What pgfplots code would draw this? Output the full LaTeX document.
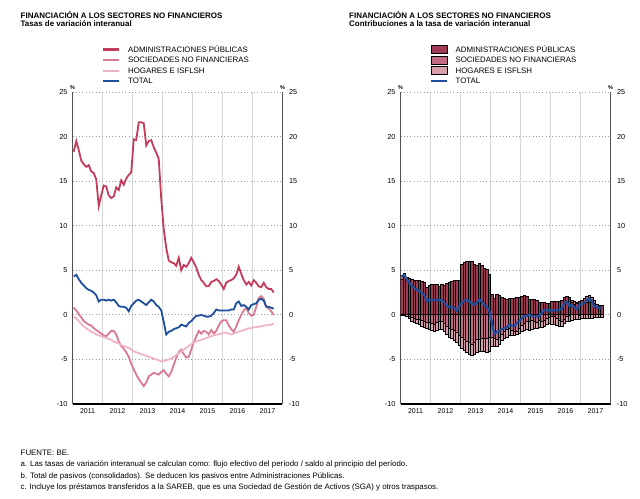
\documentclass[border=0pt]{standalone}
\usepackage{fontspec}
\setmainfont{Liberation Sans}
\usepackage{pgfplots}
\usepackage{pgfplotstable}
\pgfplotsset{compat=1.18}

\definecolor{lA}{HTML}{C43C5C}
\definecolor{lS}{HTML}{D97A92}
\definecolor{lH}{HTML}{EDB5C3}
\definecolor{lT}{HTML}{1F4F9C}
\definecolor{bA}{HTML}{A03A56}
\definecolor{bS}{HTML}{C26A83}
\definecolor{bH}{HTML}{D89EAC}
\definecolor{vgrid}{HTML}{D6D6D6}
\definecolor{hgrid}{HTML}{9C9C9C}
\definecolor{axgray}{HTML}{505050}

\pgfplotstableread{
m A S H T
0 18.3 0.8 -0.2 4.3
1 19.5 0.5 -0.4 4.5
2 18.5 0.1 -0.7 4.0
3 17.3 -0.3 -1.0 3.6
4 16.9 -0.7 -1.3 3.3
5 16.6 -0.9 -1.5 3.0
6 16.8 -1.1 -1.7 2.8
7 16.1 -1.2 -1.9 2.7
8 15.9 -1.5 -2.0 2.5
9 15.2 -1.7 -2.2 2.2
10 12.2 -1.9 -2.3 1.5
11 13.4 -2.1 -2.4 1.7
12 14.5 -2.3 -2.5 1.7
13 14.4 -2.4 -2.6 1.6
14 13.4 -2.1 -2.7 1.7
15 13.1 -1.8 -2.8 1.6
16 13.3 -1.8 -3.0 1.7
17 14.3 -2.2 -3.1 1.4
18 14.0 -3.0 -3.2 1.0
19 15.1 -3.5 -3.4 0.9
20 14.6 -3.8 -3.5 0.9
21 15.3 -4.2 -3.6 0.8
22 15.7 -4.7 -3.7 0.4
23 16.0 -5.5 -3.9 1.0
24 19.7 -6.1 -4.1 1.3
25 19.6 -6.7 -4.2 1.6
26 21.6 -7.2 -4.3 1.7
27 21.6 -7.6 -4.4 1.5
28 21.5 -8.0 -4.5 1.3
29 19.0 -7.6 -4.6 1.1
30 19.5 -6.9 -4.7 1.4
31 19.6 -6.7 -4.8 1.7
32 18.8 -6.5 -4.9 1.5
33 18.2 -6.6 -5.0 1.1
34 17.5 -6.7 -5.1 0.9
35 13.0 -6.4 -5.2 0.5
36 9.6 -6.2 -5.2 -0.8
37 7.5 -6.6 -5.1 -2.2
38 6.1 -6.9 -5.0 -1.9
39 5.9 -6.4 -4.9 -1.8
40 5.8 -5.6 -4.7 -1.6
41 5.5 -4.8 -4.5 -1.5
42 6.4 -4.2 -4.3 -1.4
43 5.0 -3.9 -4.1 -1.1
44 5.6 -4.4 -3.9 -1.2
45 5.4 -4.8 -3.7 -1.3
46 5.8 -4.7 -3.5 -0.9
47 6.4 -3.9 -3.3 -0.7
48 5.9 -3.1 -3.1 -0.4
49 5.3 -2.4 -3.0 -0.1
50 4.5 -1.8 -2.9 -0.1
51 3.9 -2.1 -2.8 0.0
52 3.6 -1.8 -2.7 -0.1
53 3.2 -1.9 -2.6 -0.2
54 3.2 -2.2 -2.5 -0.2
55 3.7 -1.7 -2.4 -0.1
56 3.8 -2.1 -2.3 0.2
57 4.0 -1.8 -2.2 0.6
58 3.8 -1.2 -2.2 0.5
59 3.4 -0.75 -2.1 0.5
60 2.9 -0.6 -2.0 0.5
61 3.6 -0.6 -2.0 0.5
62 3.8 -1.2 -2.1 0.5
63 3.9 -1.6 -2.2 0.6
64 4.1 -1.9 -2.1 0.6
65 4.5 -1.3 -2.0 1.3
66 5.4 -0.6 -1.9 1.5
67 4.6 0.0 -1.8 1.0
68 3.9 0.5 -1.7 1.1
69 3.4 0.75 -1.6 0.9
70 3.7 0.2 -1.5 0.6
71 3.3 -0.1 -1.5 1.1
72 3.9 0.0 -1.4 1.2
73 3.6 0.9 -1.4 1.3
74 3.2 1.9 -1.3 1.7
75 3.1 2.1 -1.3 1.8
76 3.6 1.8 -1.2 1.6
77 3.1 0.9 -1.2 0.9
78 2.9 0.7 -1.1 0.9
79 2.9 0.4 -1.1 0.8
80 2.5 0.0 -1.0 0.7
}\rates

\pgfplotstableread{
m top cA bot sneg
0 4.36 4.00 -0.06 0
1 4.62 4.40 -0.12 0
2 4.22 4.18 -0.22 0
3 4.04 4.04 -0.44 -0.13
4 4.01 4.01 -0.71 -0.31
5 3.86 3.86 -0.86 -0.40
6 3.81 3.81 -1.01 -0.49
7 3.81 3.81 -1.11 -0.53
8 3.77 3.77 -1.27 -0.66
9 3.61 3.61 -1.41 -0.74
10 3.03 3.03 -1.53 -0.83
11 3.34 3.34 -1.64 -0.91
12 3.46 3.46 -1.76 -1.00
13 3.43 3.43 -1.83 -1.04
14 3.42 3.42 -1.72 -0.91
15 3.21 3.21 -1.61 -0.77
16 3.37 3.37 -1.67 -0.77
17 3.27 3.27 -1.87 -0.94
18 3.50 3.50 -2.24 -1.28
19 3.60 3.60 -2.49 -1.48
20 3.70 3.70 -2.65 -1.61
21 3.80 3.80 -2.84 -1.77
22 3.80 3.80 -3.07 -1.97
23 3.90 3.90 -3.45 -2.30
24 5.60 5.60 -3.75 -2.54
25 5.90 5.90 -4.02 -2.79
26 6.00 6.00 -4.24 -2.98
27 6.00 6.00 -4.43 -3.14
28 5.95 5.95 -4.61 -3.29
29 5.70 5.70 -4.46 -3.12
30 5.59 5.59 -4.19 -2.82
31 5.75 5.75 -4.13 -2.73
32 5.56 5.56 -4.06 -2.64
33 5.22 5.22 -4.12 -2.67
34 5.07 5.07 -4.17 -2.70
35 4.57 4.57 -4.07 -2.57
36 2.30 2.30 -3.60 -2.49
37 1.89 1.89 -3.60 -2.63
38 2.28 2.28 -3.55 -2.75
39 2.13 2.13 -3.30 -2.53
40 1.95 1.95 -2.90 -2.21
41 1.80 1.80 -2.70 -1.89
42 1.75 1.75 -2.50 -1.65
43 1.80 1.80 -2.30 -1.52
44 1.85 1.85 -2.30 -1.72
45 1.85 1.85 -2.30 -1.86
46 1.90 1.90 -2.25 -1.82
47 1.95 1.95 -2.05 -1.50
48 2.10 2.10 -1.85 -1.19
49 2.20 2.20 -1.76 -0.92
50 2.10 2.10 -1.60 -0.69
51 1.75 1.75 -1.70 -0.80
52 1.70 1.70 -1.60 -0.68
53 1.70 1.70 -1.55 -0.72
54 1.65 1.65 -1.55 -0.83
55 1.35 1.35 -1.45 -0.64
56 1.35 1.35 -1.45 -0.78
57 1.40 1.40 -1.30 -0.67
58 1.30 1.30 -1.10 -0.44
59 1.30 1.30 -1.00 -0.28
60 1.45 1.45 -1.05 -0.22
61 1.45 1.45 -1.05 -0.22
62 1.50 1.50 -1.20 -0.44
63 1.55 1.55 -1.30 -0.58
64 1.60 1.60 -1.30 -0.69
65 2.00 2.00 -1.01 -0.47
66 2.10 2.10 -0.73 -0.22
67 1.90 1.90 -0.70 -0.10
68 1.56 1.38 -0.60 0
69 1.45 1.18 -0.55 0
70 1.40 1.33 -0.50 0
71 1.54 1.54 -0.50 -0.04
72 1.60 1.60 -0.45 0
73 1.80 1.48 -0.45 0
74 2.04 1.38 -0.40 0
75 2.14 1.41 -0.40 0
76 2.00 1.38 -0.38 0
77 1.60 1.29 -0.35 0
78 1.20 0.96 -0.32 0
79 1.10 0.96 -0.30 0
80 1.00 1.00 -0.28 0
}\contrib

\newcommand{\tickfont}{\fontsize{7.3}{8}\selectfont}

\pgfplotsset{
  frame/.style={
    scale only axis, width=210bp, height=312bp,
    xmin=-0.5, xmax=83.5, ymin=-10, ymax=25,
  },
  base/.style={
    frame,
    axis x line*=bottom, axis y line*=left,
    axis line style={-},
    x axis line style={black, line width=1.3bp},
    y axis line style={axgray, line width=1.7bp},
    xtick={11.5,23.5,35.5,47.5,59.5,71.5},
    xticklabels={},
    xmajorgrids,
    major x grid style={vgrid, line width=1.4bp},
    extra x ticks={5.5,17.5,29.5,41.5,53.5,65.5,77.5},
    extra x tick labels={2011,2012,2013,2014,2015,2016,2017},
    extra x tick style={grid=none},
    ytick={-10,-5,0,5,10,15,20,25},
    yticklabels={-10,-5,0,5,10,15,20,25},
    ymajorgrids,
    major y grid style={hgrid, line width=0.8bp, dash pattern=on 0.9bp off 2.4bp},
    major tick length=0pt,
    tick style={draw=none},
    xticklabel style={font=\fontsize{7}{8}\selectfont, yshift=-1.5bp},
    yticklabel style={font=\tickfont, xshift=-1.5bp},
    legend cell align=left,
    legend style={at={(axis description cs:0.139,1.154)}, anchor=north west,
      draw=none, fill=none, inner sep=0pt, font=\fontsize{7.9}{8}\selectfont,
      nodes={text height=5.3bp, text depth=0bp, inner ysep=2.65bp, inner xsep=0bp},
      /tikz/every odd column/.style={column sep=7.5bp}},
  },
  rightlab/.style={
    frame,
    hide x axis,
    axis y line*=right,
    axis line style={-, axgray, line width=1.7bp},
    ytick={-10,-5,0,5,10,15,20,25},
    yticklabels={-10,-5,0,5,10,15,20,25},
    major tick length=0pt,
    tick style={draw=none},
    yticklabel style={font=\tickfont, xshift=3bp},
  },
  overlay/.style={frame, hide axis},
  zeroline/.style={
    extra y ticks={0}, extra y tick labels={},
    extra y tick style={grid=major, major grid style={black, solid, line width=1bp}},
  },
  bars/.style={ybar, bar width=1, bar shift=0pt, draw=black, line width=1bp, forget plot},
}

\begin{document}
\begin{tikzpicture}
\path[use as bounding box] (0,0) rectangle (640bp,-499bp);

% titles
\node[anchor=north west, inner sep=0pt, align=left, font=\bfseries\fontsize{8}{7.9}\selectfont] at (20.5bp,-11.2bp)
  {FINANCIACIÓN A LOS SECTORES NO FINANCIEROS\\Tasas de variación interanual};
\node[anchor=north west, inner sep=0pt, align=left, font=\bfseries\fontsize{8}{7.9}\selectfont] at (349bp,-11.2bp)
  {FINANCIACIÓN A LOS SECTORES NO FINANCIEROS\\Contribuciones a la tasa de variación interanual};

% ---------------- left panel ----------------
\begin{axis}[base, zeroline, name=L, at={(72.5bp,-92bp)}, anchor=north west,
  legend image code/.code={\draw[#1, line width=2.2bp] (0bp,0bp) -- (16.5bp,0bp);}]
  \addplot[lA, line width=1.8bp] table[x=m, y=A] {\rates};
  \addlegendentry{ADMINISTRACIONES PÚBLICAS}
  \addplot[lS, line width=1.8bp] table[x=m, y=S] {\rates};
  \addlegendentry{SOCIEDADES NO FINANCIERAS}
  \addplot[lH, line width=1.8bp] table[x=m, y=H] {\rates};
  \addlegendentry{HOGARES E ISFLSH}
  \addplot[lT, line width=1.8bp] table[x=m, y=T] {\rates};
  \addlegendentry{TOTAL}
\end{axis}
\begin{axis}[rightlab, at={(72.5bp,-92bp)}, anchor=north west]
\end{axis}
\node[anchor=south, inner sep=0pt, font=\bfseries\fontsize{5.5}{5.5}\selectfont] at ([yshift=2.5bp]L.north west) {\%};
\node[anchor=south, inner sep=0pt, font=\bfseries\fontsize{5.5}{5.5}\selectfont] at ([yshift=2.5bp]L.north east) {\%};

% ---------------- right panel ----------------
\begin{axis}[base, zeroline, name=R, at={(400.5bp,-92bp)}, anchor=north west]
  \addplot[bars, fill=bS] table[x=m, y=top] {\contrib};
  \addplot[bars, fill=bA] table[x=m, y=cA] {\contrib};
  \addplot[bars, fill=bH] table[x=m, y=bot] {\contrib};
  \addplot[bars, fill=bS] table[x=m, y=sneg] {\contrib};
  \addlegendimage{legend image code/.code={\draw[fill=bA, draw=black, line width=0.8bp] (0bp,-4bp) rectangle (16bp,4bp);}}
  \addlegendentry{ADMINISTRACIONES PÚBLICAS}
  \addlegendimage{legend image code/.code={\draw[fill=bS, draw=black, line width=0.8bp] (0bp,-4bp) rectangle (16bp,4bp);}}
  \addlegendentry{SOCIEDADES NO FINANCIERAS}
  \addlegendimage{legend image code/.code={\draw[fill=bH, draw=black, line width=0.8bp] (0bp,-4bp) rectangle (16bp,4bp);}}
  \addlegendentry{HOGARES E ISFLSH}
  \addlegendimage{legend image code/.code={\draw[lT, line width=2.2bp] (0bp,0bp) -- (16bp,0bp);}}
  \addlegendentry{TOTAL}
\end{axis}
\begin{axis}[overlay, at={(400.5bp,-92bp)}, anchor=north west]
  \addplot[lT, line width=2.2bp, line join=round] table[x=m, y=T] {\rates};
\end{axis}
\begin{axis}[rightlab, at={(400.5bp,-92bp)}, anchor=north west]
\end{axis}
\node[anchor=south, inner sep=0pt, font=\bfseries\fontsize{5.5}{5.5}\selectfont] at ([yshift=2.5bp]R.north west) {\%};
\node[anchor=south, inner sep=0pt, font=\bfseries\fontsize{5.5}{5.5}\selectfont] at ([yshift=2.5bp]R.north east) {\%};

% footnotes
\begin{scope}[every node/.style={anchor=base west, inner sep=0pt, font=\fontsize{7.9}{8}\selectfont}]
\node at (20.5bp,-455.8bp) {FUENTE: BE.};
\node at (20.5bp,-466.8bp) {a. Las tasas de variación interanual se calculan como: flujo efectivo del período / saldo al principio del período.};
\node at (20.5bp,-478.2bp) {b. Total de pasivos (consolidados). Se deducen los pasivos entre Administraciones Públicas.};
\node at (20.5bp,-489.2bp) {c. Incluye los préstamos transferidos a la SAREB, que es una Sociedad de Gestión de Activos (SGA) y otros traspasos.};
\end{scope}
\end{tikzpicture}
\end{document}
